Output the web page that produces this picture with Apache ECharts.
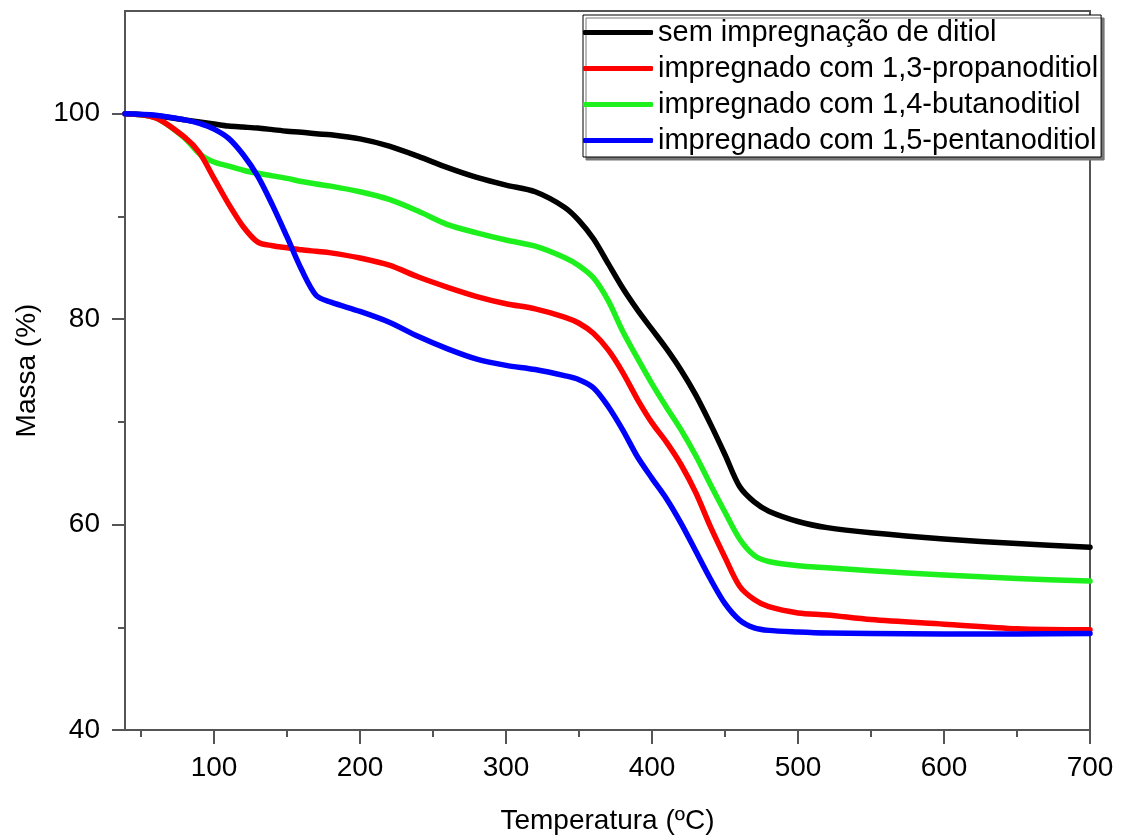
<!DOCTYPE html>
<html>
<head>
<meta charset="utf-8">
<script src="https://cdn.jsdelivr.net/npm/echarts@6/dist/echarts.min.js"></script>
<style>
html, body { margin: 0; padding: 0; background: #fff; }
#chart { width: 1135px; height: 840px; }
</style>
</head>
<body>
<div id="chart"></div>
<script>
// temperatura (ºC)
var temps = [39, 60, 80, 90, 100, 110, 120, 130, 140, 150, 160, 170, 180, 200, 220, 240, 260, 280, 300, 320,
	340, 350, 360, 370, 380, 390, 400, 410, 420, 430, 440, 450, 460, 470, 480, 500, 520, 550, 600, 650, 700];

// massa (%)
var semDitiol = [100, 99.8, 99.4, 99.2, 99.0, 98.8, 98.7, 98.6, 98.45, 98.3, 98.2, 98.05, 97.95, 97.55, 96.85, 95.85, 94.75, 93.8, 93.05, 92.4,
	90.9, 89.6, 87.8, 85.4, 83.0, 80.9, 79.0, 77.1, 75.0, 72.6, 69.8, 66.8, 63.7, 62.2, 61.3, 60.3, 59.7, 59.2, 58.6, 58.15, 57.8];
var propanoditiol = [100, 99.6, 97.7, 96.2, 93.7, 91.2, 89.0, 87.5, 87.15, 86.95, 86.75, 86.6, 86.45, 85.95, 85.25, 84.1, 83.1, 82.2, 81.5, 81.0,
	80.2, 79.6, 78.6, 77.0, 74.8, 72.2, 69.9, 68.0, 65.8, 63.1, 59.8, 56.8, 54.0, 52.7, 52.0, 51.4, 51.2, 50.75, 50.3, 49.85, 49.75];
var butanoditiol = [100, 99.6, 97.6, 96.1, 95.3, 94.9, 94.5, 94.2, 93.95, 93.7, 93.4, 93.15, 92.95, 92.4, 91.65, 90.5, 89.2, 88.4, 87.7, 87.1,
	86.0, 85.2, 84.0, 81.8, 78.8, 76.2, 73.7, 71.4, 69.2, 66.7, 63.9, 61.2, 58.6, 57.0, 56.4, 56.0, 55.8, 55.5, 55.1, 54.75, 54.5];
var pentanoditiol = [100, 99.85, 99.4, 99.05, 98.5, 97.6, 96.0, 93.9, 91.1, 88.0, 84.8, 82.3, 81.65, 80.75, 79.7, 78.3, 77.1, 76.1, 75.5, 75.1,
	74.5, 74.1, 73.3, 71.5, 69.2, 66.6, 64.5, 62.5, 60.1, 57.4, 54.7, 52.3, 50.7, 49.95, 49.7, 49.55, 49.45, 49.4, 49.35, 49.35, 49.4];

var legendNames = ['sem impregnação de ditiol', 'impregnado com 1,3-propanoditiol',
	'impregnado com 1,4-butanoditiol', 'impregnado com 1,5-pentanoditiol'];

var xMajorTicks = [100, 200, 300, 400, 500, 600, 700];
var xMinorTicks = [50, 150, 250, 350, 450, 550, 650];
var yMajorTicks = [40, 60, 80, 100];
var yMinorTicks = [50, 70, 90];

function pairs(vals) {
	var out = [];
	for (var i = 0; i < temps.length; i++) {
		out.push([temps[i], vals[i]]);
	}
	return out;
}

var font = 'Liberation Sans, Arial, sans-serif';
var axisColor = '#555';

var myChart = echarts.init(document.getElementById('chart'));

function curve(name, vals, color) {
	return {
		name: name,
		type: 'line',
		xAxisIndex: 0,
		yAxisIndex: 0,
		data: pairs(vals),
		smooth: 0.3,
		showSymbol: false,
		symbol: 'none',
		lineStyle: { color: color, width: 5.5, cap: 'round', join: 'round' },
		itemStyle: { color: color }
	};
}

var option = {
	animation: false,
	backgroundColor: '#fff',
	grid: {
		left: 125, right: 45, top: 11, bottom: 107,
		show: true, borderColor: axisColor, borderWidth: 2, backgroundColor: 'transparent'
	},
	legend: {
		data: legendNames,
		orient: 'vertical',
		left: 583,
		top: 15,
		padding: [3, 3, 2, 0],
		itemGap: 7,
		itemWidth: 70,
		itemHeight: 5,
		icon: 'roundRect',
		borderColor: '#000',
		borderWidth: 1,
		backgroundColor: '#fff',
		shadowColor: '#777',
		shadowBlur: 0,
		shadowOffsetX: 3,
		shadowOffsetY: 3,
		textStyle: { fontFamily: font, fontSize: 29, color: '#000' }
	},
	xAxis: [{
		type: 'value',
		min: 39,
		max: 700,
		name: 'Temperatura (ºC)',
		nameLocation: 'middle',
		nameGap: 77,
		nameTextStyle: { fontFamily: font, fontSize: 28, color: '#000' },
		axisLine: { show: true, lineStyle: { color: axisColor, width: 2 } },
		axisTick: { show: true, customValues: xMajorTicks, length: 14, lineStyle: { color: axisColor, width: 2 } },
		axisLabel: { customValues: xMajorTicks, margin: 24, fontFamily: font, fontSize: 28, color: '#000' },
		splitLine: { show: false }
	}, {
		type: 'value',
		min: 39,
		max: 700,
		position: 'bottom',
		axisLine: { show: false },
		axisTick: { show: true, customValues: xMinorTicks, length: 7, lineStyle: { color: axisColor, width: 2 } },
		axisLabel: { show: false },
		splitLine: { show: false }
	}],
	yAxis: [{
		type: 'value',
		min: 40,
		max: 110,
		name: 'Massa (%)',
		nameLocation: 'middle',
		nameGap: 84,
		nameTextStyle: { fontFamily: font, fontSize: 28, color: '#000' },
		axisLine: { show: true, lineStyle: { color: axisColor, width: 2 } },
		axisTick: { show: true, customValues: yMajorTicks, length: 13, lineStyle: { color: axisColor, width: 2 } },
		axisLabel: { customValues: yMajorTicks, margin: 25, fontFamily: font, fontSize: 28, color: '#000' },
		splitLine: { show: false }
	}, {
		type: 'value',
		min: 40,
		max: 110,
		position: 'left',
		axisLine: { show: false },
		axisTick: { show: true, customValues: yMinorTicks, length: 7, lineStyle: { color: axisColor, width: 2 } },
		axisLabel: { show: false },
		splitLine: { show: false }
	}],
	series: [
		curve(legendNames[0], semDitiol, '#000000'),
		curve(legendNames[2], butanoditiol, '#1ef01e'),
		curve(legendNames[1], propanoditiol, '#ff0000'),
		curve(legendNames[3], pentanoditiol, '#0000ff')
	]
};

myChart.setOption(option);
</script>
</body>
</html>
